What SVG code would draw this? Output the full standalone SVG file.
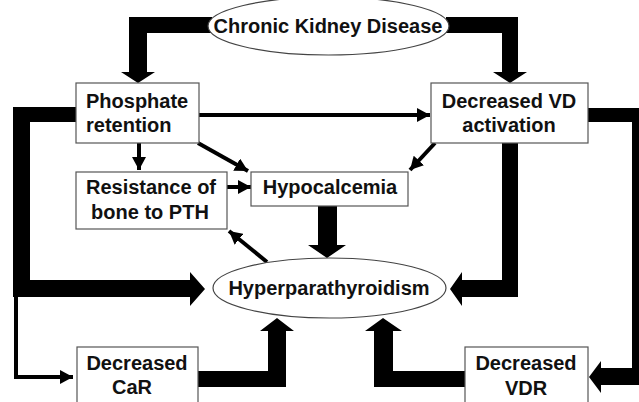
<svg xmlns="http://www.w3.org/2000/svg" width="639" height="402" viewBox="0 0 639 402">
<style>
.box{fill:#fff;stroke:#555;stroke-width:1.2}
.ell{fill:#fff;stroke:#444;stroke-width:1.2}
.t{font-family:"Liberation Sans",Arial,sans-serif;font-weight:bold;font-size:20px;fill:#111;text-anchor:middle}
.thick{fill:#000}
.thin{stroke:#000;stroke-width:4;fill:none}
</style>
<defs>
<marker id="ah" markerUnits="userSpaceOnUse" markerWidth="14" markerHeight="14" refX="13" refY="7" orient="auto">
<path d="M0,0 L13,7 L0,14 Z" fill="#000"/>
</marker>
</defs>
<rect width="639" height="402" fill="#fff"/>
<g id="connectors">
<path class="thick" d="M212,17 L129,17 L129,72 L121,72 L138,83 L155,72 L147,72 L147,33 L212,33 Z"/>
<path class="thick" d="M446,17 L518,17 L518,72 L527,72 L510,83 L493,72 L502,72 L502,33 L446,33 Z"/>
<path class="thick" d="M77,107 L13,107 L13,297 L190,297 L190,306 L205,289 L190,272 L190,280 L30,280 L30,122 L77,122 Z"/>
<path class="thick" d="M502,143 L502,280 L462,280 L462,272 L450,289 L462,306 L462,297 L518,297 L518,143 Z"/>
<path class="thick" d="M588,108 L648,108 L648,385 L601,385 L601,393 L589,377 L601,361 L601,368 L632,368 L632,122 L588,122 Z"/>
<path class="thick" d="M198,371 L268,371 L268,331 L260,331 L277,318 L294,331 L286,331 L286,387 L198,387 Z"/>
<path class="thick" d="M465,371 L393,371 L393,331 L402,331 L383,318 L365,331 L374,331 L374,387 L465,387 Z"/>
<path class="thick" d="M318,206 L318,245 L308,245 L327,258 L346,245 L337,245 L337,206 Z"/>
<path class="thin" d="M16,296 L16,377 L73,377" marker-end="url(#ah)"/>
<line class="thin" x1="199" y1="115" x2="430" y2="115" marker-end="url(#ah)"/>
<line class="thin" x1="139" y1="143" x2="139" y2="170" marker-end="url(#ah)"/>
<line class="thin" x1="198" y1="143" x2="248" y2="171" marker-end="url(#ah)"/>
<line class="thin" x1="435" y1="143" x2="410" y2="170" marker-end="url(#ah)"/>
<line class="thin" x1="227" y1="187" x2="251" y2="187" stroke-width="5" marker-end="url(#ah)"/>
<line class="thin" x1="267" y1="262" x2="229" y2="231" marker-end="url(#ah)"/>
</g>
<g id="ckd">
<ellipse class="ell" cx="328.5" cy="26" rx="120.5" ry="29"/>
<text class="t" x="328" y="33">Chronic Kidney Disease</text>
</g>
<g id="phosphate">
<rect class="box" x="76" y="83" width="123" height="60"/>
<text class="t" x="86" y="108" style="text-anchor:start">Phosphate</text>
<text class="t" x="86" y="132" style="text-anchor:start">retention</text>
</g>
<g id="decreased-vd">
<rect class="box" x="431" y="83" width="157" height="60"/>
<text class="t" x="509" y="108">Decreased VD</text>
<text class="t" x="509" y="132">activation</text>
</g>
<g id="resistance">
<rect class="box" x="76" y="172" width="151" height="57"/>
<text class="t" x="151" y="194">Resistance of</text>
<text class="t" x="150" y="219">bone to PTH</text>
</g>
<g id="hypocalcemia">
<rect class="box" x="251" y="172" width="157" height="34"/>
<text class="t" x="330" y="194">Hypocalcemia</text>
</g>
<g id="hyperparathyroidism">
<ellipse class="ell" cx="329.5" cy="288" rx="116.5" ry="30"/>
<text class="t" x="329" y="295">Hyperparathyroidism</text>
</g>
<g id="decreased-car">
<rect class="box" x="77" y="347" width="121" height="70"/>
<text class="t" x="137" y="370">Decreased</text>
<text class="t" x="132" y="394">CaR</text>
</g>
<g id="decreased-vdr">
<rect class="box" x="465" y="347" width="123" height="70"/>
<text class="t" x="526" y="370">Decreased</text>
<text class="t" x="526" y="395">VDR</text>
</g>
</svg>
